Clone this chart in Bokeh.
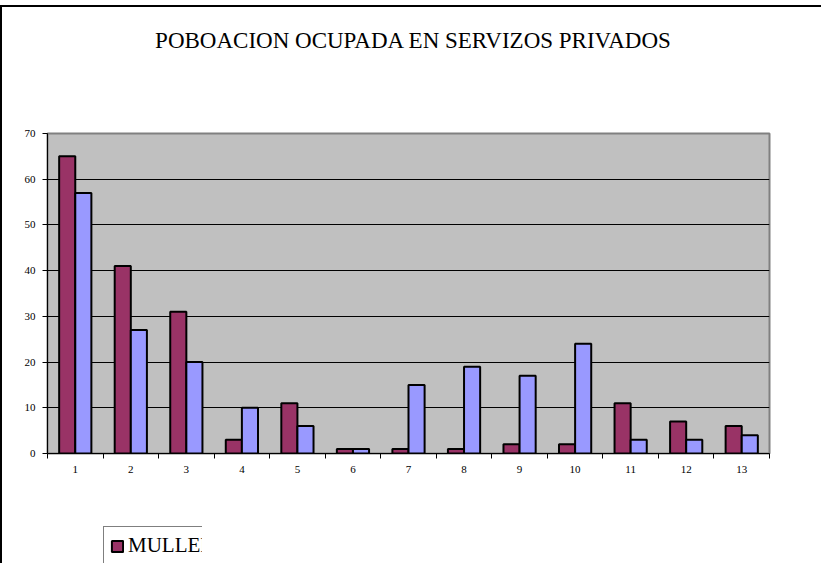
from bokeh.plotting import figure
from bokeh.layouts import column
from bokeh.models import (ColumnDataSource, FixedTicker, Legend, LegendItem,
                          Range1d, Div)
from bokeh.transform import dodge
from bokeh.embed import file_html
from bokeh.resources import INLINE

categories = [str(i) for i in range(1, 14)]
mulleres = [65, 41, 31, 3, 11, 1, 1, 1, 2, 2, 11, 7, 6]
varons = [57, 27, 20, 10, 6, 1, 15, 19, 17, 24, 3, 3, 4]
title_text = "POBOACION OCUPADA EN SERVIZOS PRIVADOS"
series_names = ["MULLERES", "VARONS"]
y_ticks = [0, 10, 20, 30, 40, 50, 60, 70]

xpos = list(range(1, len(categories) + 1))
source = ColumnDataSource(dict(x=xpos, cat=categories, m=mulleres, v=varons))

FONT = "Liberation Serif"
C_M = "#993366"
C_V = "#9999FF"

p = figure(frame_width=722, frame_height=320, output_backend="svg", toolbar_location=None,
           x_range=Range1d(0.5, 13.5), y_range=Range1d(0, 70),
           min_border_left=45, min_border_right=45, min_border_top=56,
           min_border_bottom=72, background_fill_color="#C0C0C0",
           border_fill_color="white", title=None)

bw = 0.29
p.vbar(x=dodge("x", -bw / 2, range=p.x_range), top="m", width=bw, bottom=0,
       source=source, fill_color=C_M, line_color="black", line_width=2)
p.vbar(x=dodge("x", bw / 2, range=p.x_range), top="v", width=bw, bottom=0,
       source=source, fill_color=C_V, line_color="black", line_width=2)

# axes
p.xaxis.ticker = FixedTicker(ticks=xpos, minor_ticks=[i + 0.5 for i in range(0, 14)])
p.xaxis.major_label_overrides = {i: c for i, c in zip(xpos, categories)}
p.xaxis.major_tick_line_color = None
p.xaxis.minor_tick_line_color = "black"
p.xaxis.minor_tick_out = 5
p.xaxis.minor_tick_in = 0
p.xaxis.axis_line_color = "black"
p.xaxis.major_label_text_font = FONT
p.xaxis.major_label_text_font_size = "11px"
p.xaxis.major_label_text_color = "black"
p.xaxis.major_label_standoff = 6

p.yaxis.ticker = FixedTicker(ticks=y_ticks)
p.yaxis.minor_tick_line_color = None
p.yaxis.major_tick_out = 5
p.yaxis.major_tick_in = 0
p.yaxis.major_tick_line_color = "black"
p.yaxis.axis_line_color = "black"
p.yaxis.major_label_text_font = FONT
p.yaxis.major_label_text_font_size = "11px"
p.yaxis.major_label_text_color = "black"
p.yaxis.major_label_standoff = 7

p.xgrid.grid_line_color = None
p.ygrid.grid_line_color = "black"
p.ygrid.grid_line_width = 1
p.ygrid.ticker = FixedTicker(ticks=y_ticks)

p.outline_line_color = "#808080"
p.outline_line_width = 2

# legend figure (its bars lie outside its own range, only the legend shows)
p2 = figure(frame_width=300, frame_height=38, output_backend="svg", toolbar_location=None,
            x_range=Range1d(-100, -99), y_range=Range1d(-100, -99),
            x_axis_type=None, y_axis_type=None,
            min_border_left=0, min_border_right=0, min_border_top=0,
            min_border_bottom=0, background_fill_color="white",
            border_fill_color="white", title=None)
p2.outline_line_color = None
p2.xgrid.visible = False
p2.ygrid.visible = False
lr1 = p2.vbar(x="x", top="m", width=bw, bottom=0, source=source,
              fill_color=C_M, line_color="black", line_width=2)
lr2 = p2.vbar(x="x", top="v", width=bw, bottom=0, source=source,
              fill_color=C_V, line_color="black", line_width=2)

legend = Legend(items=[LegendItem(label=series_names[0], renderers=[lr1]),
                       LegendItem(label=series_names[1], renderers=[lr2])],
                orientation="horizontal", location="top_left",
                label_text_font=FONT, label_text_font_size="21px",
                label_text_color="black",
                glyph_width=14, glyph_height=14, label_standoff=4, spacing=14,
                padding=6, margin=1, border_line_color="black",
                border_line_width=1, background_fill_color="white",
                background_fill_alpha=1.0)
p2.add_layout(legend)

title_div = Div(text=title_text, width=812, height=60,
                styles={"text-align": "center", "font-family": "'Liberation Serif', serif",
                        "font-size": "23px", "color": "black", "padding-top": "13px",
                        "box-sizing": "border-box", "width": "812px"})

layout = column(title_div, p, p2, spacing=0)
layout.styles = {"border-top": "2px solid black", "border-left": "2px solid black",
                 "margin-top": "5px"}

open("out.html", "w").write(file_html(layout, INLINE))
